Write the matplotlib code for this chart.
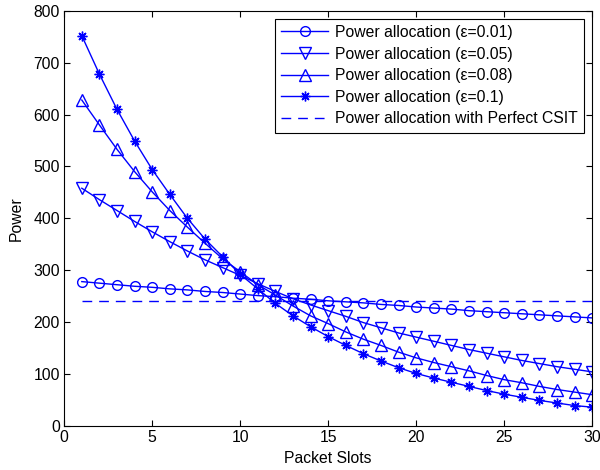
import numpy as np
import matplotlib
matplotlib.use("Agg")
import matplotlib.pyplot as plt

plt.rcParams['font.family'] = ['Liberation Sans', 'DejaVu Sans']

# packet slots
slots = np.arange(1, 31)

# power allocation for each epsilon
p_001 = [278, 275, 272, 269, 267, 264, 262, 259, 257, 254, 251, 249, 246, 244, 241,
         239, 237, 234, 232, 229, 227, 225, 222, 220, 218, 216, 214, 212, 210, 208]
p_005 = [458, 436, 415, 394, 374, 355, 337, 320, 305, 290, 274, 259, 245, 233, 222,
         211, 199, 189, 179, 171, 163, 155, 147, 140, 133, 126, 120, 114, 109, 104]
p_008 = [628, 580, 533, 490, 451, 415, 383, 352, 322, 297, 272, 252, 231, 212, 197,
         181, 167, 155, 142, 131, 122, 114, 106, 97, 89, 83, 76, 70, 65, 60]
p_01 = [752, 678, 610, 549, 494, 446, 400, 360, 326, 292, 264, 236, 212, 191, 172,
        155, 139, 125, 112, 101, 92, 84, 76, 68, 61, 55, 49, 44, 39, 36]
p_csit = [240] * 30

labels = ['Power allocation (ε=0.01)', 'Power allocation (ε=0.05)',
          'Power allocation (ε=0.08)', 'Power allocation (ε=0.1)',
          'Power allocation with Perfect CSIT']

fig = plt.figure(figsize=(6, 4.7), dpi=100)
ax = fig.add_axes([0.107, 0.094, 0.88, 0.883])

blue = '#0000ff'
fs = 11.3
lw = 1.0
ax.plot(slots, p_001, color=blue, lw=lw, marker='o', ms=7, mfc='none', mew=lw, label=labels[0])
ax.plot(slots, p_005, color=blue, lw=lw, marker='v', ms=8, mfc='none', mew=lw, label=labels[1])
ax.plot(slots, p_008, color=blue, lw=lw, marker='^', ms=8, mfc='none', mew=lw, label=labels[2])
ax.plot(slots, p_01, color=blue, lw=lw, marker=(8, 2, 0), ms=7, mew=lw, label=labels[3])
ax.plot(slots, p_csit, color=blue, lw=lw, ls=(0, (7, 5)), label=labels[4])

ax.set_xlim(0, 30)
ax.set_ylim(0, 800)
ax.set_xticks(range(0, 31, 5))
ax.set_yticks(range(0, 801, 100))
ax.tick_params(direction='in', top=True, right=True, labelsize=fs, length=4, pad=3)
for s in ax.spines.values():
    s.set_linewidth(0.8)
ax.set_xlabel('Packet Slots', fontsize=fs, labelpad=4)
ax.set_ylabel('Power', fontsize=fs, labelpad=7)

leg = ax.legend(loc='upper right', fontsize=fs, fancybox=False, framealpha=1,
                edgecolor='black', handlelength=3.0, labelspacing=0.42,
                borderaxespad=0.5, handletextpad=0.45, borderpad=0.4)
leg.get_frame().set_linewidth(0.8)

fig.savefig('out.png', dpi=100)
